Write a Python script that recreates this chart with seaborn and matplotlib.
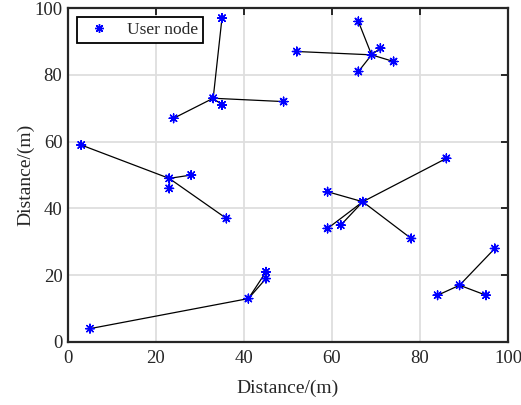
import matplotlib
matplotlib.use("Agg")
import matplotlib.pyplot as plt
import seaborn as sns
import pandas as pd

# Cluster heads
head_x = [41, 23, 33, 69, 67, 89]
head_y = [13, 49, 73, 86, 42, 17]

# Member nodes and the cluster they belong to
member_x = [5, 45, 45, 3, 28, 23, 36, 35, 24, 35, 49, 66, 52, 71, 74, 66, 86, 59, 59, 62, 78, 97, 84, 95]
member_y = [4, 21, 19, 59, 50, 46, 37, 97, 67, 71, 72, 96, 87, 88, 84, 81, 55, 45, 34, 35, 31, 28, 14, 14]
member_cluster = [0, 0, 0, 1, 1, 1, 1, 2, 2, 2, 2, 3, 3, 3, 3, 3, 4, 4, 4, 4, 4, 5, 5, 5]

xticks = [0, 20, 40, 60, 80, 100]
yticks = [0, 20, 40, 60, 80, 100]

sns.set_style("white")
plt.rcParams['font.family'] = ['Liberation Serif', 'DejaVu Serif']
plt.rcParams['mathtext.fontset'] = 'stix'

fig = plt.figure(figsize=(5.21, 4.05), dpi=100)
ax = fig.add_axes([0.1305, 0.1556, 0.8445, 0.8244])

# Links between member and head
seg_rows = []
for i, (mx, my, c) in enumerate(zip(member_x, member_y, member_cluster)):
    seg_rows.append({"seg": i, "x": mx, "y": my})
    seg_rows.append({"seg": i, "x": head_x[c], "y": head_y[c]})
seg_df = pd.DataFrame(seg_rows)
sns.lineplot(data=seg_df, x="x", y="y", units="seg", estimator=None, sort=False,
             color="black", linewidth=0.9, ax=ax, legend=False)

# Nodes
nodes = pd.DataFrame({"x": member_x + head_x, "y": member_y + head_y,
                      "label": ["User node"] * (len(member_x) + len(head_x))})
sns.scatterplot(data=nodes, x="x", y="y", hue="label", palette=["#0000ff"],
                marker=(8, 2, 0), s=40, linewidth=1.0, edgecolor="#0000ff", ax=ax, zorder=3)

ax.set_xlim(0, 100)
ax.set_ylim(0, 100)
ax.set_xticks(xticks)
ax.set_yticks(yticks)
ax.set_xlabel("Distance/(m)", fontsize=14, labelpad=9, color="#262626")
ax.set_ylabel("Distance/(m)", fontsize=14, labelpad=0, color="#262626")
ax.tick_params(direction="in", length=5, width=1.4, labelsize=13.5, colors="#262626",
               top=True, right=True)
ax.tick_params(axis="x", pad=6)
ax.tick_params(axis="y", pad=4)
ax.grid(True, color="#dedede", linewidth=1.3)
ax.set_axisbelow(True)
for sp in ax.spines.values():
    sp.set_linewidth(1.6)
    sp.set_color("#262626")

leg = ax.legend(loc="upper left", fontsize=12.5, frameon=True, fancybox=False,
                edgecolor="black", framealpha=1, borderpad=0.3, handletextpad=0.6,
                borderaxespad=0.5, markerscale=1.0)
leg.get_frame().set_linewidth(1.3)

fig.savefig("out.png", dpi=100)
